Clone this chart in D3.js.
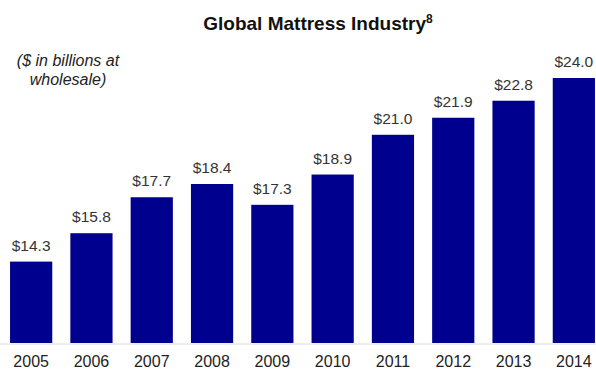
<!DOCTYPE html>
<html>
<head>
<meta charset="utf-8">
<script src="https://cdn.jsdelivr.net/npm/d3@7"></script>
<style>
  body { margin: 0; background: #fff; }
  svg { display: block; font-family: "Liberation Sans", Arial, sans-serif; }
</style>
</head>
<body>
<div id="chart"></div>
<script>
const years = ['2005', '2006', '2007', '2008', '2009', '2010', '2011', '2012', '2013', '2014'];
const values = [14.3, 15.8, 17.7, 18.4, 17.3, 18.9, 21.0, 21.9, 22.8, 24.0];
const yDomain = [10, 24];

const width = 596;
const height = 369;

const dim = {
  baseline: 343,
  topOfMax: 78,
  left: 1,
  right: 604,
};

const svg = d3.select('#chart').append('svg')
  .attr('width', width)
  .attr('height', height);

const xScale = d3.scaleBand()
  .domain(years)
  .range([dim.left, dim.right])
  .paddingInner(0.3)
  .paddingOuter(0.15);

const yScale = d3.scaleLinear()
  .domain(yDomain)
  .range([dim.baseline, dim.topOfMax]);

// title
const title = svg.append('text')
  .attr('x', 318)
  .attr('y', 30)
  .attr('text-anchor', 'middle')
  .style('font-size', '19px')
  .style('font-weight', 'bold')
  .style('fill', '#111');
title.append('tspan').text('Global Mattress Industry');
title.append('tspan')
  .attr('dy', -7)
  .style('font-size', '12px')
  .text('8');

// units note
const note = svg.append('text')
  .attr('text-anchor', 'middle')
  .style('font-size', '16px')
  .style('font-style', 'italic')
  .style('fill', '#222');
note.append('tspan').attr('x', 68).attr('y', 66).text('($ in billions at');
note.append('tspan').attr('x', 68).attr('y', 85).text('wholesale)');

// baseline
svg.append('line')
  .attr('x1', 0)
  .attr('x2', width)
  .attr('y1', dim.baseline + 1)
  .attr('y2', dim.baseline + 1)
  .style('stroke', '#ddd')
  .style('stroke-width', 1);

// bars
svg.append('g')
  .selectAll('rect')
  .data(values)
  .enter().append('rect')
  .attr('x', (d, i) => xScale(years[i]))
  .attr('y', d => yScale(d))
  .attr('width', xScale.bandwidth())
  .attr('height', d => dim.baseline - yScale(d))
  .style('fill', '#00008f');

// value labels
svg.append('g')
  .selectAll('text')
  .data(values)
  .enter().append('text')
  .attr('x', (d, i) => xScale(years[i]) + xScale.bandwidth() / 2)
  .attr('y', d => yScale(d) - 11)
  .attr('text-anchor', 'middle')
  .style('font-size', '15.5px')
  .style('fill', '#333')
  .text(d => `$${d.toFixed(1)}`);

// x axis labels
const xAxis = d3.axisBottom(xScale).tickSize(0).tickPadding(0);
const axisG = svg.append('g')
  .attr('transform', `translate(0, ${dim.baseline + 24})`)
  .call(xAxis);
axisG.select('.domain').remove();
axisG.selectAll('text')
  .attr('dy', null)
  .style('font-size', '16px')
  .style('font-family', '"Liberation Sans", Arial, sans-serif')
  .style('fill', '#222');
</script>
</body>
</html>
